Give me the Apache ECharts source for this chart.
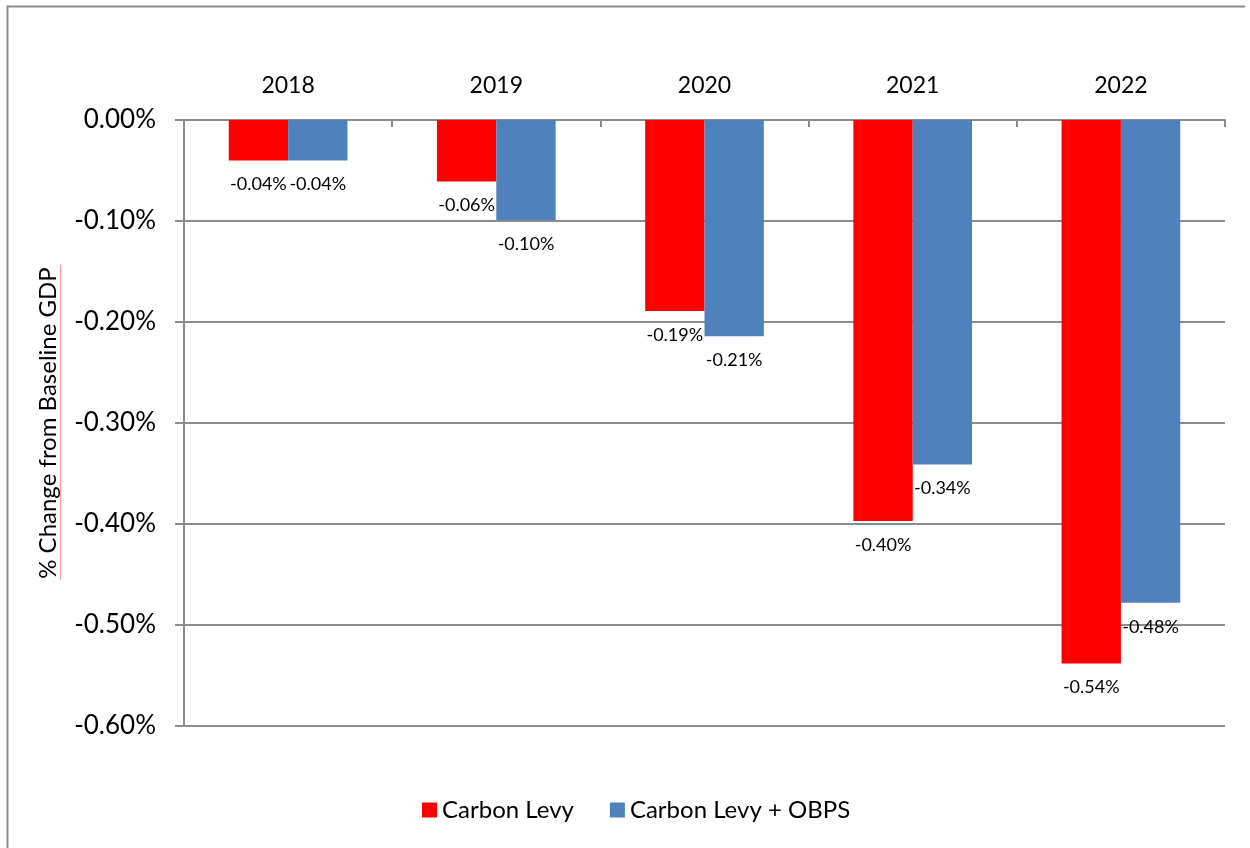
<!DOCTYPE html>
<html>
<head>
<meta charset="utf-8">
<script src="https://cdn.jsdelivr.net/npm/echarts@6/dist/echarts.min.js"></script>
<style>
html,body{margin:0;padding:0;background:#fff;}
#chart{width:1250px;height:848px;}
</style>
</head>
<body>
<div id="chart"></div>
<script>
const categories = ['2018', '2019', '2020', '2021', '2022'];
const carbonLevy = [-0.04, -0.061, -0.189, -0.397, -0.538];
const carbonLevyOBPS = [-0.04, -0.099, -0.214, -0.341, -0.478];
const seriesNames = ['Carbon Levy', 'Carbon Levy + OBPS'];
const yTicks = { min: -0.6, max: 0, interval: 0.1 };
const axisTitle = '% Change from Baseline GDP';

const FONT = 'Lato, "Open Sans", sans-serif';
const chart = echarts.init(document.getElementById('chart'));
const lbl = {
  show: true,
  position: 'bottom',
  distance: 15,
  color: '#000',
  fontFamily: FONT,
  fontSize: 18,
  formatter: p => p.value.toFixed(2) + '%'
};
chart.setOption({
  animation: false,
  backgroundColor: '#fff',
  grid: { left: 184, right: 25, top: 120, bottom: 122, containLabel: false },
  legend: {
    bottom: 21,
    left: 417,
    itemWidth: 15,
    itemHeight: 15,
    itemGap: 36,
    icon: 'rect',
    textStyle: { fontFamily: FONT, fontSize: 24, color: '#000' },
    data: seriesNames
  },
  xAxis: {
    type: 'category',
    position: 'top',
    data: categories,
    axisLine: { show: true, lineStyle: { color: '#8c8c8c', width: 2 } },
    axisTick: { show: true, inside: true, length: 7, lineStyle: { color: '#8c8c8c', width: 2 } },
    axisLabel: { fontFamily: FONT, fontSize: 23, color: '#000', margin: 23 },
    splitLine: { show: false }
  },
  yAxis: {
    type: 'value',
    min: yTicks.min,
    max: yTicks.max,
    interval: yTicks.interval,
    name: axisTitle,
    nameLocation: 'middle',
    nameGap: 124,
    nameTextStyle: { fontFamily: FONT, fontSize: 24, color: '#000' },
    axisLine: { show: true, lineStyle: { color: '#8c8c8c', width: 2 } },
    axisTick: { show: true, length: 9, lineStyle: { color: '#8c8c8c', width: 2 } },
    axisLabel: { fontFamily: FONT, fontSize: 26, color: '#000', margin: 28,
      formatter: v => v.toFixed(2) + '%' },
    splitLine: { show: true, lineStyle: { color: '#8c8c8c', width: 2 } }
  },
  series: [
    { name: seriesNames[0], type: 'bar', data: carbonLevy, barGap: '0%', barCategoryGap: '43%',
      itemStyle: { color: '#FF0000' }, label: lbl },
    { name: seriesNames[1], type: 'bar', data: carbonLevyOBPS, barGap: '0%', barCategoryGap: '43%',
      itemStyle: { color: '#4F81BD' }, label: lbl }
  ],
  graphic: [
    { type: 'polyline', shape: { points: [[7.5, 860], [7.5, 6.5], [1245, 6.5]] },
      style: { stroke: '#8c8c8c', lineWidth: 2, fill: null }, silent: true },
    { type: 'line', shape: { x1: 60.5, y1: 265, x2: 60.5, y2: 580 },
      style: { stroke: '#ff9999', lineWidth: 1 }, silent: true, z: -1 }
  ]
});
</script>
</body>
</html>
